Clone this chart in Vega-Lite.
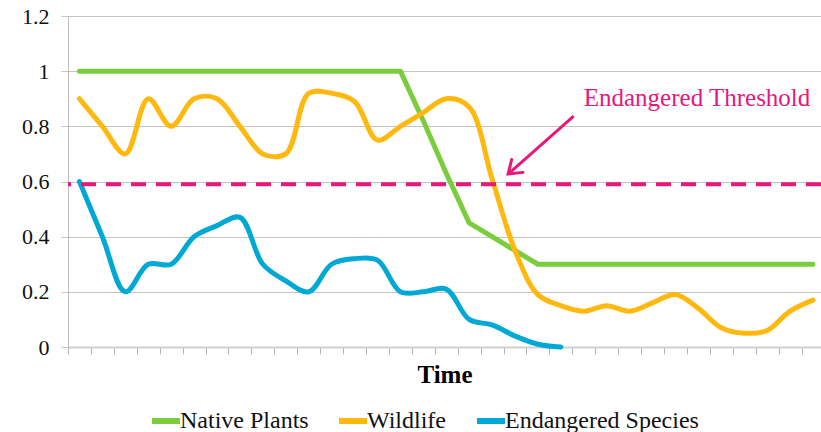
{
  "$schema": "https://vega.github.io/schema/vega-lite/v6.json",
  "autosize": {"type": "none"},
  "width": 753,
  "height": 331,
  "padding": {"left": 68, "top": 16, "right": 0, "bottom": 85},
  "background": "white",
  "config": {
    "view": {"stroke": null},
    "font": "Liberation Serif"
  },
  "datasets": {
    "series": [
      {"t": 1, "series": "Native Plants", "v": 1}, {"t": 2, "series": "Native Plants", "v": 1},
      {"t": 3, "series": "Native Plants", "v": 1}, {"t": 4, "series": "Native Plants", "v": 1},
      {"t": 5, "series": "Native Plants", "v": 1}, {"t": 6, "series": "Native Plants", "v": 1},
      {"t": 7, "series": "Native Plants", "v": 1}, {"t": 8, "series": "Native Plants", "v": 1},
      {"t": 9, "series": "Native Plants", "v": 1}, {"t": 10, "series": "Native Plants", "v": 1},
      {"t": 11, "series": "Native Plants", "v": 1}, {"t": 12, "series": "Native Plants", "v": 1},
      {"t": 13, "series": "Native Plants", "v": 1}, {"t": 14, "series": "Native Plants", "v": 1},
      {"t": 15, "series": "Native Plants", "v": 1}, {"t": 16, "series": "Native Plants", "v": 0.82},
      {"t": 17, "series": "Native Plants", "v": 0.63}, {"t": 18, "series": "Native Plants", "v": 0.45},
      {"t": 19, "series": "Native Plants", "v": 0.4}, {"t": 20, "series": "Native Plants", "v": 0.35},
      {"t": 21, "series": "Native Plants", "v": 0.3}, {"t": 22, "series": "Native Plants", "v": 0.3},
      {"t": 23, "series": "Native Plants", "v": 0.3}, {"t": 24, "series": "Native Plants", "v": 0.3},
      {"t": 25, "series": "Native Plants", "v": 0.3}, {"t": 26, "series": "Native Plants", "v": 0.3},
      {"t": 27, "series": "Native Plants", "v": 0.3}, {"t": 28, "series": "Native Plants", "v": 0.3},
      {"t": 29, "series": "Native Plants", "v": 0.3}, {"t": 30, "series": "Native Plants", "v": 0.3},
      {"t": 31, "series": "Native Plants", "v": 0.3}, {"t": 32, "series": "Native Plants", "v": 0.3},
      {"t": 33, "series": "Native Plants", "v": 0.3},

      {"t": 1, "series": "Wildlife", "v": 0.9}, {"t": 2, "series": "Wildlife", "v": 0.8},
      {"t": 3, "series": "Wildlife", "v": 0.7}, {"t": 4, "series": "Wildlife", "v": 0.9},
      {"t": 5, "series": "Wildlife", "v": 0.8}, {"t": 6, "series": "Wildlife", "v": 0.9},
      {"t": 7, "series": "Wildlife", "v": 0.9}, {"t": 8, "series": "Wildlife", "v": 0.8},
      {"t": 9, "series": "Wildlife", "v": 0.7}, {"t": 10, "series": "Wildlife", "v": 0.7},
      {"t": 11, "series": "Wildlife", "v": 0.92}, {"t": 12, "series": "Wildlife", "v": 0.92},
      {"t": 13, "series": "Wildlife", "v": 0.89}, {"t": 14, "series": "Wildlife", "v": 0.75},
      {"t": 15, "series": "Wildlife", "v": 0.8}, {"t": 16, "series": "Wildlife", "v": 0.85},
      {"t": 17, "series": "Wildlife", "v": 0.9}, {"t": 18, "series": "Wildlife", "v": 0.87},
      {"t": 19, "series": "Wildlife", "v": 0.61}, {"t": 20, "series": "Wildlife", "v": 0.35},
      {"t": 21, "series": "Wildlife", "v": 0.19}, {"t": 22, "series": "Wildlife", "v": 0.15},
      {"t": 23, "series": "Wildlife", "v": 0.13}, {"t": 24, "series": "Wildlife", "v": 0.15},
      {"t": 25, "series": "Wildlife", "v": 0.13}, {"t": 26, "series": "Wildlife", "v": 0.16},
      {"t": 27, "series": "Wildlife", "v": 0.19}, {"t": 28, "series": "Wildlife", "v": 0.14},
      {"t": 29, "series": "Wildlife", "v": 0.07}, {"t": 30, "series": "Wildlife", "v": 0.05},
      {"t": 31, "series": "Wildlife", "v": 0.06}, {"t": 32, "series": "Wildlife", "v": 0.13},
      {"t": 33, "series": "Wildlife", "v": 0.17},

      {"t": 1, "series": "Endangered Species", "v": 0.6}, {"t": 2, "series": "Endangered Species", "v": 0.4},
      {"t": 3, "series": "Endangered Species", "v": 0.2}, {"t": 4, "series": "Endangered Species", "v": 0.3},
      {"t": 5, "series": "Endangered Species", "v": 0.3}, {"t": 6, "series": "Endangered Species", "v": 0.4},
      {"t": 7, "series": "Endangered Species", "v": 0.44}, {"t": 8, "series": "Endangered Species", "v": 0.47},
      {"t": 9, "series": "Endangered Species", "v": 0.3}, {"t": 10, "series": "Endangered Species", "v": 0.24},
      {"t": 11, "series": "Endangered Species", "v": 0.2}, {"t": 12, "series": "Endangered Species", "v": 0.3},
      {"t": 13, "series": "Endangered Species", "v": 0.32}, {"t": 14, "series": "Endangered Species", "v": 0.315},
      {"t": 15, "series": "Endangered Species", "v": 0.2}, {"t": 16, "series": "Endangered Species", "v": 0.2},
      {"t": 17, "series": "Endangered Species", "v": 0.21}, {"t": 18, "series": "Endangered Species", "v": 0.1},
      {"t": 19, "series": "Endangered Species", "v": 0.08}, {"t": 20, "series": "Endangered Species", "v": 0.04},
      {"t": 21, "series": "Endangered Species", "v": 0.01}, {"t": 22, "series": "Endangered Species", "v": 0.0}
    ],
    "threshold": [{"v": 0.59}],
    "note": [{"tx": 22.56, "ty": 0.837, "hx": 19.7, "hy": 0.627, "lx": 23.0, "ly": 0.8735, "label": "Endangered Threshold"}]
  },
  "layer": [
    {
      "data": {"name": "series"},
      "transform": [{"filter": "datum.series === 'Native Plants'"}],
      "mark": {"type": "line", "interpolate": "linear", "strokeWidth": 5, "strokeCap": "round", "strokeJoin": "round"},
      "encoding": {
        "x": {
          "field": "t", "type": "quantitative",
          "scale": {"domain": [0.5, 33.35], "nice": false, "zero": false},
          "axis": {
            "title": "Time",
            "titleFont": "Liberation Serif", "titleFontSize": 25, "titleFontWeight": "bold", "titleColor": "#000000",
            "titlePadding": 8,
            "labels": false, "grid": false,
            "tickCount": 60,
            "values": [0.5, 1.5, 2.5, 3.5, 4.5, 5.5, 6.5, 7.5, 8.5, 9.5, 10.5, 11.5, 12.5, 13.5, 14.5, 15.5, 16.5, 17.5, 18.5, 19.5, 20.5, 21.5, 22.5, 23.5, 24.5, 25.5, 26.5, 27.5, 28.5, 29.5, 30.5, 31.5, 32.5],
            "ticks": true, "tickSize": 7, "tickColor": "#b0b0b0", "tickWidth": 1, "tickRound": true,
            "domain": true, "domainColor": "#d0d0d0", "domainWidth": 2
          }
        },
        "y": {
          "field": "v", "type": "quantitative",
          "scale": {"domain": [0, 1.2], "nice": false},
          "axis": {
            "title": null,
            "values": [0, 0.2, 0.4, 0.6, 0.8, 1, 1.2],
            "format": "~g",
            "labelFont": "Liberation Serif", "labelFontSize": 22, "labelColor": "#111111",
            "labelPadding": 12,
            "grid": true, "gridColor": "#c4c4c4", "gridWidth": 1,
            "ticks": true, "tickSize": 7, "tickColor": "#c4c4c4",
            "domain": true, "domainColor": "#bdbdbd", "domainWidth": 1
          }
        },
        "color": {
          "field": "series", "type": "nominal",
          "scale": {
            "domain": ["Native Plants", "Wildlife", "Endangered Species"],
            "range": ["#7acd3c", "#ffb80d", "#00a8d6"]
          },
          "legend": {
            "title": null,
            "orient": "none",
            "direction": "horizontal",
            "legendX": 81,
            "legendY": 388,
            "padding": 0,
            "symbolType": "stroke",
            "symbolSize": 784,
            "symbolStrokeWidth": 6,
            "labelFont": "Liberation Serif",
            "labelFontSize": 24,
            "labelColor": "#111111",
            "labelOffset": -3,
            "columnPadding": 18,
            "labelLimit": 300
          }
        }
      }
    },
    {
      "data": {"name": "series"},
      "transform": [{"filter": "datum.series !== 'Native Plants'"}],
      "mark": {"type": "line", "interpolate": "catmull-rom", "strokeWidth": 5, "strokeCap": "round", "strokeJoin": "round"},
      "encoding": {
        "x": {"field": "t", "type": "quantitative"},
        "y": {"field": "v", "type": "quantitative"},
        "color": {"field": "series", "type": "nominal"}
      }
    },
    {
      "data": {"name": "threshold"},
      "mark": {"type": "rule", "color": "#e8177a", "strokeWidth": 4, "strokeDash": [15, 10]},
      "encoding": {
        "y": {"field": "v", "type": "quantitative"}
      }
    },
    {
      "data": {"name": "note"},
      "mark": {"type": "rule", "color": "#e8177a", "strokeWidth": 3},
      "encoding": {
        "x": {"field": "tx", "type": "quantitative"},
        "y": {"field": "ty", "type": "quantitative"},
        "x2": {"field": "hx"},
        "y2": {"field": "hy"}
      }
    },
    {
      "data": {"name": "note"},
      "mark": {
        "type": "point",
        "shape": "M -1 -0.7 L 0 0 L -1 0.7",
        "filled": false,
        "size": 600,
        "angle": 138.6,
        "stroke": "#e8177a",
        "strokeWidth": 3,
        "strokeCap": "round",
        "strokeJoin": "miter",
        "opacity": 1
      },
      "encoding": {
        "x": {"field": "hx", "type": "quantitative"},
        "y": {"field": "hy", "type": "quantitative"}
      }
    },
    {
      "data": {"name": "note"},
      "mark": {"type": "text", "align": "left", "baseline": "alphabetic", "font": "Liberation Serif", "fontSize": 25, "color": "#e8177a"},
      "encoding": {
        "x": {"field": "lx", "type": "quantitative"},
        "y": {"field": "ly", "type": "quantitative"},
        "text": {"field": "label"}
      }
    }
  ]
}
